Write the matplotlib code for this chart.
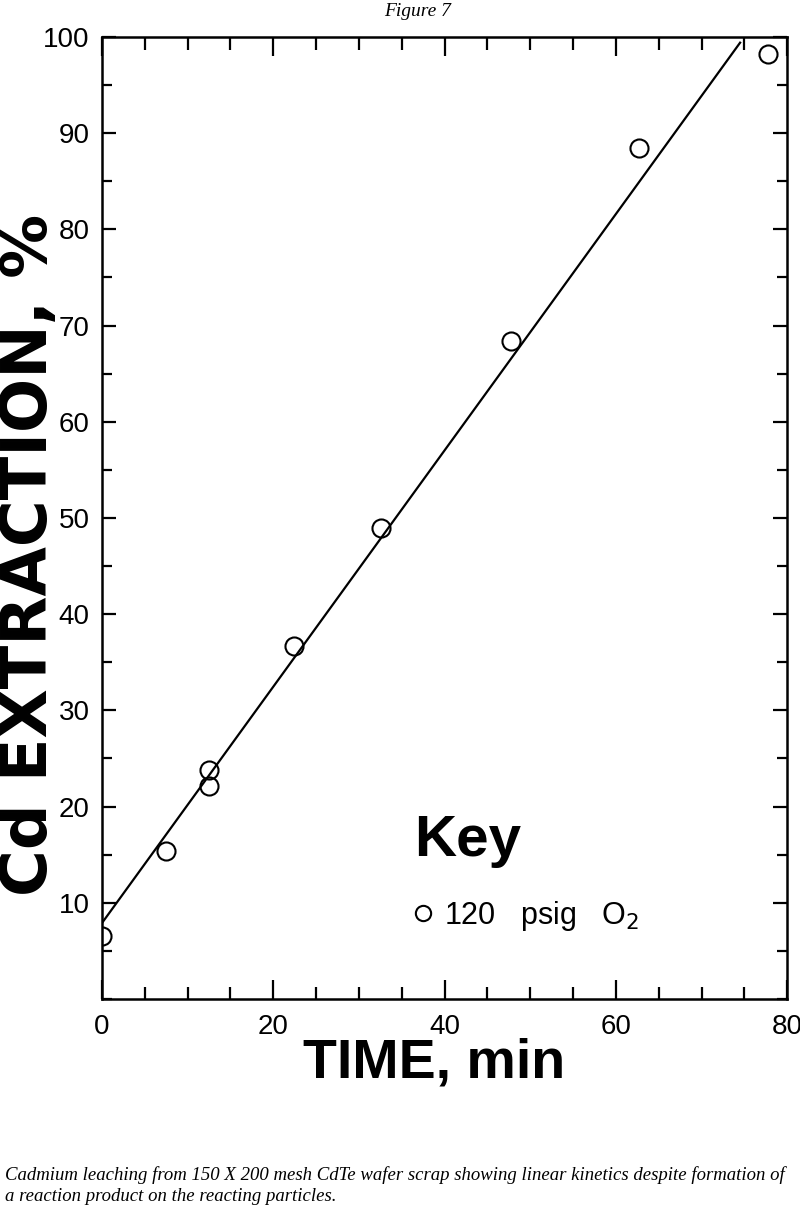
import matplotlib
matplotlib.use('Agg')
import matplotlib.pyplot as plt
from matplotlib.lines import Line2D
from matplotlib.ticker import MultipleLocator

# Data
time_min = [0.0, 7.5, 12.5, 12.5, 22.4, 32.6, 47.7, 62.7, 77.7]
cd_extraction = [6.5, 15.4, 23.8, 22.1, 36.7, 49.0, 68.4, 88.5, 98.2]

# Fitted straight line (end points)
fit_x = [0.0, 74.5]
fit_y = [7.9, 99.4]

x_ticks = [0, 20, 40, 60, 80]
y_ticks = [10, 20, 30, 40, 50, 60, 70, 80, 90, 100]

sans = ['Liberation Sans', 'DejaVu Sans']

fig = plt.figure(figsize=(8, 12.3), dpi=100)
ax = fig.add_axes([0.1275, 0.1878, 0.8565, 0.7822])

ax.plot(fit_x, fit_y, color='black', lw=1.6, zorder=2)
ax.plot(time_min, cd_extraction, linestyle='none', marker='o', markersize=13,
        markerfacecolor='none', markeredgecolor='black', markeredgewidth=1.5, zorder=3)

ax.set_xlim(0, 80)
ax.set_ylim(0, 100)
ax.set_xticks(x_ticks)
ax.set_yticks(y_ticks)
ax.xaxis.set_minor_locator(MultipleLocator(5))
ax.yaxis.set_minor_locator(MultipleLocator(5))

for s in ax.spines.values():
    s.set_linewidth(1.8)

ax.tick_params(axis='both', which='both', direction='in', top=True, right=True, width=1.6)
ax.tick_params(axis='x', which='major', length=14, pad=11)
ax.tick_params(axis='x', which='minor', length=9)
ax.tick_params(axis='y', which='major', length=10, pad=9)
ax.tick_params(axis='y', which='minor', length=7)

for lab in ax.get_xticklabels() + ax.get_yticklabels():
    lab.set_family(sans)
    lab.set_fontsize(20)

# Key
handle = Line2D([], [], linestyle='none', marker='o', markersize=11,
                markerfacecolor='none', markeredgecolor='black', markeredgewidth=1.5)
leg = ax.legend([handle], ['120   psig   O$_2$'], title='Key', loc='lower left',
                bbox_to_anchor=(0.415, 0.04), frameon=False, handlelength=0.6,
                handletextpad=0.4, labelspacing=1.0, prop={'family': sans, 'size': 22},
                title_fontproperties={'family': sans, 'weight': 'bold', 'size': 42})
leg._legend_box.align = 'left'

fig.text(434 / 800, 1 - 1064 / 1230, 'TIME, min', ha='center', va='center',
         family=sans, weight='bold', fontsize=40)
fig.text(29 / 800, 1 - 555 / 1230, 'Cd EXTRACTION, %', ha='center', va='center',
         rotation=90, family='DejaVu Sans', weight='bold', fontsize=46)

fig.text(0.522, 1 - 12 / 1230, 'Figure 7', ha='center', va='center',
         family='Liberation Serif', style='italic', fontsize=14)

caption = ('Cadmium leaching from 150 X 200 mesh CdTe wafer scrap showing linear kinetics despite formation of\n'
           'a reaction product on the reacting particles.')
fig.text(5 / 800, 1 - 1166 / 1230, caption, ha='left', va='top',
         family='Liberation Serif', style='italic', fontsize=13.5, linespacing=1.3)

fig.savefig('out.png', dpi=100)
